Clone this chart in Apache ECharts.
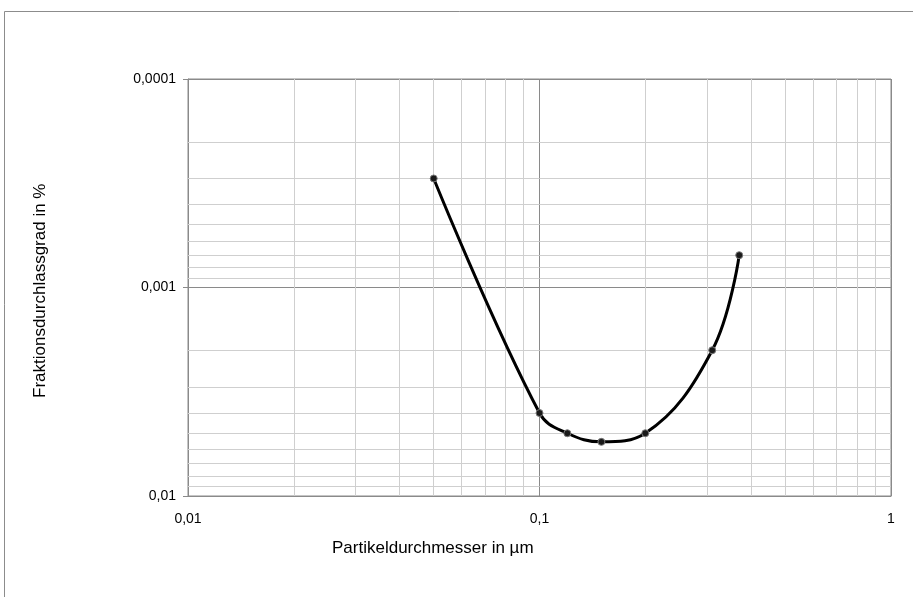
<!DOCTYPE html>
<html>
<head>
    <meta charset="utf-8">
    <title>Fraktionsdurchlassgrad</title>
    <script src="https://cdn.jsdelivr.net/npm/echarts@6/dist/echarts.min.js"></script>
</head>
<style>
    html, body {
        margin: 0;
        background: #fff;
    }
    #main {
        width: 913px;
        height: 597px;
    }
</style>
<body>
    <div id="main"></div>
    <script type="text/javascript">
        // Partikeldurchmesser (µm) und Fraktionsdurchlassgrad (%)
        var diameters = [0.05, 0.1, 0.12, 0.15, 0.2, 0.31, 0.37];
        var passRates = [0.0003, 0.004, 0.005, 0.0055, 0.005, 0.002, 0.0007];
        var xTitle = 'Partikeldurchmesser in µm';
        var yTitle = 'Fraktionsdurchlassgrad in %';
        var xRange = [0.01, 1];
        var yRange = [0.0001, 0.01];

        var points = [];
        for (var i = 0; i < diameters.length; i++) {
            points.push([diameters[i], passRates[i]]);
        }

        // Nebengitter der logarithmischen Achsen (2..9 je Dekade)
        function minorSteps(from, to) {
            var out = [];
            for (var d = from; d < to * 0.999; d *= 10) {
                for (var k = 2; k <= 9; k++) out.push(+(d * k).toPrecision(3));
            }
            return out;
        }
        var minorLines = [];
        minorSteps(xRange[0], xRange[1]).forEach(function (v) {
            minorLines.push([{ coord: [v, yRange[0]] }, { coord: [v, yRange[1]] }]);
        });
        minorSteps(yRange[0], yRange[1]).forEach(function (v) {
            minorLines.push([{ coord: [xRange[0], v] }, { coord: [xRange[1], v] }]);
        });

        function fmt(v) {
            return String(+Number(v).toPrecision(3)).replace('.', ',');
        }

        var font = '"Liberation Sans", Arial, sans-serif';
        var option = {
            animation: false,
            backgroundColor: '#fff',
            graphic: [{
                type: 'rect',
                shape: { x: 4.5, y: 11.5, width: 1000, height: 1000 },
                style: { fill: 'none', stroke: '#8c8c8c', lineWidth: 1 },
                silent: true
            }, {
                type: 'text',
                left: 332, top: 540,
                style: { text: xTitle, font: '17px ' + font, fill: '#000' }
            }, {
                type: 'text',
                rotation: Math.PI / 2,
                x: 32, y: 398,
                style: { text: yTitle, font: '17px ' + font, fill: '#000' }
            }],
            grid: {
                left: 188, top: 79, right: 22, bottom: 101,
                show: true, borderColor: '#8a8a8a', borderWidth: 1,
                backgroundColor: '#fff'
            },
            xAxis: {
                type: 'log', logBase: 10, min: xRange[0], max: xRange[1],
                axisLine: { show: true, lineStyle: { color: '#8a8a8a', width: 1 } },
                axisTick: { show: false },
                axisLabel: { formatter: fmt, color: '#000', fontSize: 14, fontFamily: font, margin: 16 },
                splitLine: { show: true, lineStyle: { color: '#8a8a8a', width: 1 } }
            },
            yAxis: {
                type: 'log', logBase: 10, min: yRange[0], max: yRange[1], inverse: true,
                axisLine: { show: true, lineStyle: { color: '#8a8a8a', width: 1 } },
                axisTick: { show: true, inside: false, length: 5, lineStyle: { color: '#8a8a8a' } },
                axisLabel: { formatter: fmt, color: '#000', fontSize: 14, fontFamily: font, margin: 12 },
                splitLine: { show: true, lineStyle: { color: '#8a8a8a', width: 1 } }
            },
            series: [{
                type: 'line',
                data: points,
                z: 1,
                silent: true,
                symbol: 'none',
                lineStyle: { opacity: 0 },
                markLine: {
                    silent: true,
                    symbol: 'none',
                    label: { show: false },
                    animation: false,
                    lineStyle: { color: '#cfcfcf', width: 1, type: 'solid' },
                    data: minorLines
                }
            }, {
                type: 'line',
                data: points,
                z: 5,
                smooth: 0.4,
                symbol: 'circle',
                symbolSize: 7,
                lineStyle: { color: '#000', width: 3 },
                itemStyle: { color: '#1a1a1a', borderColor: '#7a7a7a', borderWidth: 1 }
            }]
        };
        var myChart = echarts.init(document.getElementById('main'));
        myChart.setOption(option);
    </script>
</body>
</html>
